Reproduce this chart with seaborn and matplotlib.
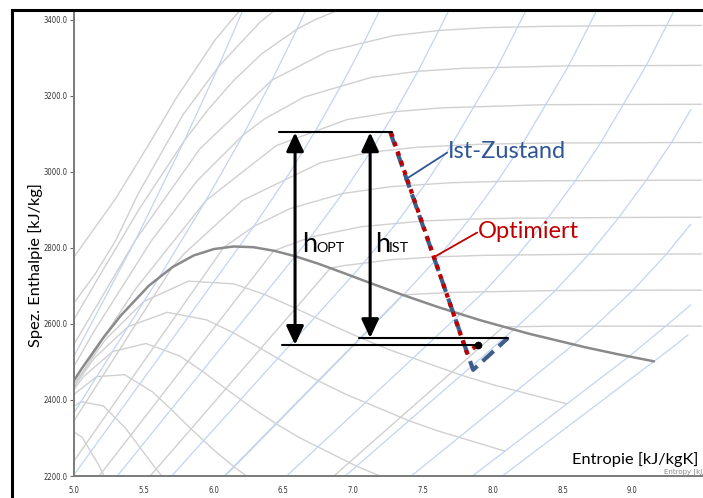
import matplotlib
matplotlib.use("Agg")
import matplotlib.pyplot as plt
import pandas as pd
import seaborn as sns
from matplotlib.lines import Line2D
from matplotlib.patches import ArrowStyle

# ---------------------------------------------------------------
# Water / steam h-s (Mollier) data, s in kJ/kgK, h in kJ/kg
# ---------------------------------------------------------------
# saturated vapour line
SAT_S = [4.941, 5.053, 5.211, 5.336, 5.536, 5.705, 5.857, 6.002, 6.144, 6.285,
         6.432, 6.586, 6.750, 6.930, 7.130, 7.355, 7.612, 7.910, 8.257, 8.667,
         8.901, 9.156]
SAT_H = [2418.0, 2481.0, 2563.9, 2622.0, 2700.1, 2749.0, 2779.6, 2796.6, 2803.3,
         2801.5, 2792.2, 2777.6, 2758.1, 2733.9, 2706.3, 2676.1, 2643.7, 2609.6,
         2574.3, 2538.1, 2519.8, 2501.4]

# isotherms 600 ... 50 degC
ISOTHERMS = [
    ([4.950, 5.300, 5.550, 5.730, 6.011, 6.233], [2750.0, 2930.0, 3080.0, 3192.0, 3346.4, 3443.9]),
    ([4.950, 5.150, 5.300, 5.460, 5.780, 6.034, 6.185, 6.335, 6.520],
     [2630.0, 2730.0, 2820.0, 2942.0, 3149.0, 3275.4, 3335.0, 3393.5, 3448.6]),
    ([4.950, 5.173, 5.470, 5.790, 5.959, 6.140, 6.348, 6.600, 6.727, 6.883, 7.000],
     [2580.0, 2720.1, 2903.3, 3081.1, 3162.4, 3238.2, 3310.8, 3375.1, 3399.5, 3423.1, 3438.0]),
    ([4.946, 5.442, 5.902, 6.419, 6.819, 7.287, 7.619, 7.945, 8.371, 8.693, 9.015, 9.757],
     [2512.8, 2821.0, 3060.1, 3240.9, 3316.2, 3357.5, 3371.3, 3378.5, 3382.0, 3383.0, 3384.0, 3384.5]),
    ([4.473, 5.143, 5.554, 5.881, 6.212, 6.364, 6.646, 7.127, 7.465, 7.794, 8.544, 9.608],
     [2151.1, 2580.2, 2818.1, 2975.4, 3096.5, 3138.3, 3195.7, 3247.6, 3263.9, 3271.9, 3278.2, 3279.6]),
    ([4.900, 5.211, 5.442, 5.944, 6.449, 6.956, 7.301, 7.633, 8.385, 9.447, 9.770],
     [2370.0, 2563.9, 2692.4, 2923.4, 3068.4, 3137.0, 3157.7, 3167.7, 3176.2, 3177.2, 3177.3]),
    ([4.900, 5.705, 5.791, 6.208, 6.766, 7.123, 7.460, 7.893, 8.216, 8.538, 9.281, 9.600],
     [2287.7, 2749.0, 2785.0, 2924.5, 3023.5, 3051.2, 3064.2, 3071.8, 3074.3, 3075.5, 3076.5, 3076.6]),
    ([4.924, 6.073, 6.287, 6.545, 6.925, 7.272, 7.709, 8.033, 8.356, 9.100, 9.420, 9.840],
     [2200.0, 2801.0, 2855.8, 2902.5, 2942.6, 2960.7, 2971.0, 2974.3, 2976.0, 2977.3, 2977.5, 2977.6]),
    ([5.180, 6.432, 6.694, 7.060, 7.507, 7.834, 8.158, 8.904, 9.220, 9.650],
     [2200.0, 2792.2, 2827.9, 2855.4, 2870.5, 2875.3, 2877.7, 2879.5, 2880.0, 2880.2]),
    ([5.546, 6.838, 6.930, 7.280, 7.614, 7.940, 8.689, 9.010, 9.430, 9.750],
     [2200.0, 2746.5, 2752.8, 2768.8, 2776.4, 2780.1, 2783.0, 2783.3, 2783.6, 2783.7]),
    ([6.078, 7.355, 7.695, 8.449, 8.770, 9.190, 9.510],
     [2200.0, 2676.1, 2682.5, 2687.5, 2688.0, 2688.5, 2688.7]),
    ([6.862, 8.076, 8.175, 8.490, 8.917, 9.240, 9.600],
     [2200.0, 2592.1, 2592.6, 2594.0, 2594.0, 2594.0, 2594.0]),
]

# isobars 0.006 ... 300 bar
ISOBARS = [
    ([8.070, 9.156, 9.288, 9.400], [2200.0, 2501.4, 2538.0, 2571.0]),
    ([7.855, 8.975, 9.240, 9.420], [2200.0, 2513.7, 2594.0, 2650.0]),
    ([7.417, 8.576, 8.731, 9.005, 9.245, 9.420],
     [2200.0, 2544.4, 2593.6, 2688.0, 2783.3, 2862.0]),
    ([6.944, 8.150, 8.175, 8.449, 8.689, 8.904, 9.100, 9.281, 9.420],
     [2200.0, 2584.6, 2592.6, 2687.5, 2783.0, 2879.5, 2977.3, 3076.5, 3163.0]),
    ([6.524, 7.767, 7.942, 8.182, 8.397, 8.593, 8.774, 9.101, 9.391],
     [2200.0, 2625.4, 2685.5, 2781.6, 2878.7, 2976.6, 3076.0, 3279.2, 3488.9]),
    ([6.083, 7.359, 7.614, 7.834, 8.033, 8.216, 8.544, 8.834],
     [2200.0, 2675.5, 2776.4, 2875.3, 2974.3, 3074.3, 3278.2, 3488.1]),
    ([5.700, 6.992, 7.078, 7.312, 7.517, 7.702, 8.033, 8.325],
     [2200.0, 2725.3, 2761.0, 2865.6, 2967.6, 3069.3, 3275.0, 3486.0]),
    ([5.310, 6.586, 6.694, 6.925, 7.123, 7.301, 7.465, 7.762],
     [2200.0, 2778.1, 2827.9, 2942.6, 3051.2, 3157.7, 3263.9, 3478.5]),
    ([4.994, 6.186, 6.287, 6.539, 6.743, 6.921, 7.083, 7.234],
     [2200.0, 2804.1, 2855.8, 2993.5, 3115.3, 3230.9, 3344.0, 3456.5]),
    ([5.000, 5.614, 5.944, 6.212, 6.419, 6.597, 6.756],
     [2366.0, 2724.7, 2923.4, 3096.5, 3240.9, 3373.7, 3500.9]),
    ([4.475, 5.442, 5.790, 6.034, 6.233],
     [2151.0, 2821.0, 3081.1, 3275.4, 3443.9]),
]

# lines of constant steam quality x = 0.95 ... 0.70
QUALITY = [
    ([4.881, 5.229, 5.501, 5.820, 6.145, 6.364, 6.573, 6.847, 7.056, 7.269, 7.775, 7.999, 8.532],
     [2380.5, 2560.5, 2658.8, 2712.3, 2705.0, 2677.3, 2643.3, 2596.6, 2562.6, 2530.7, 2465.0, 2440.3, 2389.5]),
    ([4.836, 5.147, 5.389, 5.668, 5.951, 6.141, 6.325, 6.567, 6.753, 6.944, 7.400, 7.603, 8.088],
     [2351.4, 2510.5, 2593.0, 2630.3, 2610.4, 2576.6, 2537.9, 2486.5, 2449.7, 2415.5, 2345.3, 2319.1, 2265.3]),
    ([4.790, 5.066, 5.276, 5.515, 5.756, 5.919, 6.077, 6.287, 6.451, 6.619, 7.025, 7.207, 7.645],
     [2322.2, 2460.5, 2527.1, 2548.3, 2515.9, 2475.8, 2432.4, 2376.4, 2336.8, 2300.2, 2225.7, 2197.9, 2141.0]),
    ([4.985, 5.163, 5.363, 5.561, 5.697, 5.829, 6.008, 6.148, 6.293, 6.650],
     [2410.5, 2461.3, 2466.3, 2421.4, 2375.0, 2327.0, 2266.3, 2223.9, 2184.9, 2106.0]),
    ([4.904, 5.051, 5.210, 5.367, 5.474, 5.581, 5.728, 5.845],
     [2360.5, 2395.4, 2384.3, 2326.8, 2274.3, 2221.6, 2156.2, 2111.0]),
    ([4.938, 5.057, 5.172, 5.252, 5.333, 5.448],
     [2329.6, 2302.3, 2232.3, 2173.5, 2116.2, 2046.1]),
]

# expansion lines of the turbine
IST_S = [7.265, 7.860, 8.110]          # actual state
IST_H = [3105.0, 2479.0, 2563.0]
OPT_S = [7.272, 7.815, 7.896]          # optimised
OPT_H = [3103.0, 2524.0, 2545.0]

H_IN = 3103.0                           # inlet enthalpy
H_OUT_OPT = 2545.0
H_OUT_IST = 2563.0
S_ARROW_OPT = 6.584
S_ARROW_IST = 7.122

X_TICKS = [5.0, 5.5, 6.0, 6.5, 7.0, 7.5, 8.0, 8.5, 9.0]
Y_TICKS = [2200, 2400, 2600, 2800, 3000, 3200, 3400]


def frame_of(lines, name):
    rows = []
    for i, (s_vals, h_vals) in enumerate(lines):
        for s, h in zip(s_vals, h_vals):
            rows.append((f"{name}{i}", s, h))
    return pd.DataFrame(rows, columns=["line", "s", "h"])


sns.set_style("white")
plt.rcParams["font.family"] = ["Lato", "DejaVu Sans"]

W, H = 703, 498
fig = plt.figure(figsize=(W / 100, H / 100), dpi=100)
ax = fig.add_axes([74 / W, (H - 476) / H, (702 - 74) / W, (476 - 10) / H])

grid_gray = "#d0d0d0"
for lines, name in ((ISOTHERMS, "t"), (QUALITY, "x")):
    sns.lineplot(data=frame_of(lines, name), x="s", y="h", units="line",
                 estimator=None, sort=False, color=grid_gray, lw=1.0,
                 ax=ax, legend=False)
sns.lineplot(data=frame_of(ISOBARS, "p"), x="s", y="h", units="line",
             estimator=None, sort=False, color="#c3d4f3", lw=0.9,
             ax=ax, legend=False)

sat = pd.DataFrame({"s": SAT_S, "h": SAT_H})
sns.lineplot(data=sat, x="s", y="h", sort=False, estimator=None,
             color="#8a8a8a", lw=1.8, ax=ax)

# turbine expansion lines
ist = pd.DataFrame({"s": IST_S, "h": IST_H})
sns.lineplot(data=ist, x="s", y="h", sort=False, estimator=None, ax=ax,
             color="#3f5f8a", lw=3.0)
ax.lines[-1].set_dashes((3.6, 1.7))
opt = pd.DataFrame({"s": OPT_S, "h": OPT_H})
sns.lineplot(data=opt, x="s", y="h", sort=False, estimator=None, ax=ax,
             color="#c00000", lw=3.0)
ax.lines[-1].set_dashes((1.1, 1.3))
ax.plot([OPT_S[-1]], [OPT_H[-1]], "o", color="black", ms=4.5, zorder=6)

ax.set_xlim(5.0, 9.5)
ax.set_ylim(2200, 3425)
ax.set_xticks(X_TICKS)
ax.set_yticks(Y_TICKS)
tick_font = dict(family=["Liberation Sans Narrow", "DejaVu Sans"], size=5.5,
                 stretch="condensed", color="#333333")
ax.set_xticklabels([f"{v:.1f}" for v in X_TICKS], **tick_font)
ax.set_yticklabels([f"{v:.1f}" for v in Y_TICKS], **tick_font)
ax.tick_params(axis="y", length=3, width=0.8, color="#666666", pad=1.5, left=True)
ax.tick_params(axis="x", length=0, pad=7)
ax.set_xlabel("")
ax.set_ylabel("")
for side in ("top", "right"):
    ax.spines[side].set_visible(False)
for side in ("left", "bottom"):
    ax.spines[side].set_color("#7a7a7a")
    ax.spines[side].set_linewidth(1.4)

# enthalpy reference levels
ax.plot([6.47, IST_S[0] + 0.015], [H_IN, H_IN], color="black", lw=1.5, zorder=5)
ax.plot([6.49, OPT_S[-1]], [H_OUT_OPT, H_OUT_OPT], color="black", lw=1.5, zorder=5)
ax.plot([7.04, IST_S[-1]], [H_OUT_IST, H_OUT_IST], color="black", lw=1.5, zorder=5)

style = ArrowStyle("<|-|>", head_length=0.45, head_width=0.21)
for s_pos, h_low in ((S_ARROW_OPT, H_OUT_OPT), (S_ARROW_IST, H_OUT_IST)):
    ax.annotate("", xy=(s_pos, h_low), xytext=(s_pos, H_IN),
                arrowprops=dict(arrowstyle=style, mutation_scale=25, lw=2.2,
                                color="black", shrinkA=0, shrinkB=0), zorder=5)

ax.text(6.634, 2789, "h", fontsize=19.5, va="baseline", ha="left", color="black")
ax.text(6.734, 2789, "OPT", fontsize=10.3, va="baseline", ha="left", color="black")
ax.text(7.158, 2789, "h", fontsize=19.5, va="baseline", ha="left", color="black")
ax.text(7.258, 2789, "IST", fontsize=10.3, va="baseline", ha="left", color="black")

# callouts
ax.plot([7.373, 7.674], [2979, 3050], color="#2f5597", lw=1.3, zorder=5)
ax.text(7.68, 3053, "Ist-Zustand", fontsize=17, color="#2f5597", va="center", ha="left")
ax.plot([7.573, 7.889], [2774, 2840], color="#c00000", lw=1.3, zorder=5)
ax.text(7.895, 2842, "Optimiert", fontsize=17, color="#c00000", va="center", ha="left")

# axis titles
fig.text(664 / W, 1 - 472 / H, "Entropy [kJ/kg]", fontsize=5.0, color="#888888",
         family=["Liberation Sans Narrow", "DejaVu Sans"], va="center", ha="left")
fig.text(572 / W, 1 - 460 / H, "Entropie [kJ/kgK]", fontsize=11.8, color="black",
         va="center", ha="left")
fig.text(36 / W, 1 - 265 / H, "Spez. Enthalpie [kJ/kg]", fontsize=11.8, color="black",
         rotation=90, va="center", ha="center")

# surrounding frame
fig.add_artist(Line2D([12 / W, 12 / W], [0, 1 - 10 / H], transform=fig.transFigure,
                      color="black", lw=2.2, solid_capstyle="projecting"))
fig.add_artist(Line2D([12 / W, 1], [1 - 10 / H, 1 - 10 / H], transform=fig.transFigure,
                      color="black", lw=2.2, solid_capstyle="projecting"))

fig.savefig("out.png", dpi=100)
